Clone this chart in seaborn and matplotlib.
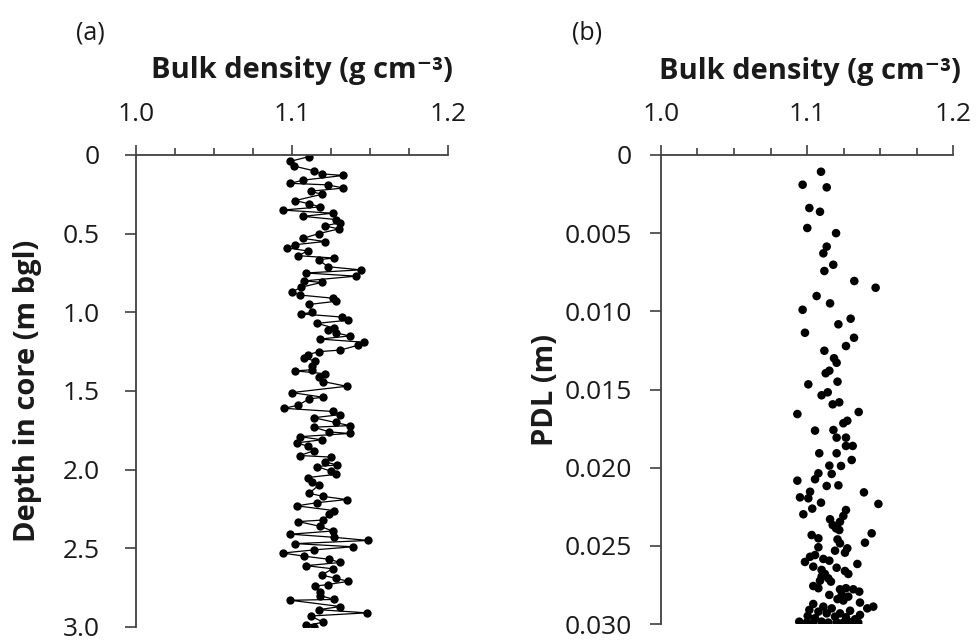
import matplotlib
matplotlib.use("Agg")
import matplotlib.pyplot as plt
from matplotlib.ticker import MultipleLocator, FixedLocator, FixedFormatter
import seaborn as sns
import pandas as pd

# ---------------- data ----------------
depth_a = [0.01, 0.04, 0.07, 0.10, 0.12, 0.13, 0.16, 0.18, 0.19, 0.21, 0.23, 0.25,
           0.29, 0.31, 0.33, 0.35, 0.37, 0.39, 0.41, 0.43, 0.45, 0.47, 0.50, 0.53,
           0.55, 0.57, 0.59, 0.61, 0.64, 0.655, 0.665, 0.71, 0.73, 0.75, 0.77, 0.80,
           0.81, 0.84, 0.87, 0.89, 0.91, 0.93, 0.95, 1.00, 1.01, 1.03, 1.05, 1.07,
           1.10, 1.11, 1.13, 1.15, 1.17, 1.19, 1.21, 1.24, 1.25, 1.27, 1.29, 1.31,
           1.34, 1.365, 1.372, 1.39, 1.41, 1.44, 1.47, 1.51, 1.54, 1.55, 1.59, 1.61,
           1.63, 1.65, 1.67, 1.70, 1.72, 1.73, 1.76, 1.77, 1.79, 1.81, 1.83, 1.85,
           1.88, 1.91, 1.92, 1.95, 1.97, 1.98, 2.01, 2.03, 2.05, 2.08, 2.10, 2.15,
           2.17, 2.19, 2.21, 2.23, 2.26, 2.28, 2.32, 2.33, 2.36, 2.39, 2.41, 2.43,
           2.45, 2.47, 2.49, 2.51, 2.53, 2.55, 2.57, 2.59, 2.61, 2.63, 2.67, 2.69,
           2.71, 2.73, 2.74, 2.78, 2.80, 2.825, 2.83, 2.87, 2.89, 2.91, 2.93, 2.97,
           2.99, 3.00]
density_a = [1.111, 1.099, 1.101, 1.114, 1.119, 1.133, 1.107, 1.099, 1.123, 1.133, 1.112, 1.119,
             1.102, 1.111, 1.118, 1.094, 1.126, 1.107, 1.128, 1.131, 1.121, 1.130, 1.117, 1.107,
             1.121, 1.102, 1.097, 1.110, 1.104, 1.127, 1.117, 1.123, 1.144, 1.109, 1.141, 1.108,
             1.119, 1.106, 1.100, 1.105, 1.126, 1.128, 1.111, 1.113, 1.106, 1.132, 1.136, 1.116,
             1.127, 1.123, 1.128, 1.137, 1.118, 1.146, 1.142, 1.131, 1.117, 1.110, 1.108, 1.115,
             1.113, 1.113, 1.102, 1.121, 1.117, 1.120, 1.135, 1.100, 1.120, 1.111, 1.104, 1.095,
             1.126, 1.131, 1.114, 1.128, 1.137, 1.114, 1.124, 1.137, 1.105, 1.119, 1.103, 1.110,
             1.114, 1.105, 1.125, 1.121, 1.129, 1.116, 1.125, 1.128, 1.110, 1.113, 1.117, 1.111,
             1.120, 1.135, 1.116, 1.103, 1.127, 1.124, 1.120, 1.104, 1.118, 1.126, 1.099, 1.127,
             1.149, 1.102, 1.139, 1.114, 1.094, 1.108, 1.124, 1.131, 1.109, 1.126, 1.119, 1.128,
             1.136, 1.123, 1.115, 1.118, 1.118, 1.127, 1.099, 1.131, 1.117, 1.148, 1.112, 1.120,
             1.109, 1.114]

pdl_b = [0.00107, 0.00190, 0.00207, 0.00339, 0.00363, 0.00467, 0.00500, 0.00586, 0.00629,
         0.00702, 0.00742, 0.00806, 0.00849, 0.00902, 0.00949, 0.00990, 0.01047, 0.01083,
         0.01137, 0.01169, 0.01222, 0.01252, 0.01300, 0.01329, 0.01380, 0.01396, 0.01467,
         0.01450, 0.01518, 0.01537, 0.01582, 0.01595, 0.01657, 0.01644, 0.01700, 0.01716,
         0.01763, 0.01759, 0.01808, 0.01808, 0.01861, 0.01861, 0.01908, 0.01908, 0.01951,
         0.01987, 0.01989, 0.02036, 0.02040, 0.02074, 0.02083, 0.02117, 0.02113, 0.02154,
         0.02158, 0.02190, 0.02196, 0.02232, 0.02224, 0.02262, 0.02271, 0.02298, 0.02309,
         0.02330, 0.02346, 0.02367, 0.02388, 0.02399, 0.02431, 0.02420, 0.02452, 0.02459,
         0.02480, 0.02484, 0.02509, 0.02516, 0.02531, 0.02544, 0.02559, 0.02570, 0.02584,
         0.02595, 0.02603, 0.02616, 0.02633, 0.02640, 0.02654, 0.02661, 0.02680, 0.02680,
         0.02697, 0.02708, 0.02723, 0.02729, 0.02757, 0.02771, 0.02778, 0.02771, 0.02778,
         0.02793, 0.02814, 0.02814, 0.02825, 0.02841, 0.02850, 0.02872, 0.02863, 0.02889,
         0.02900, 0.02889, 0.02900, 0.02910, 0.02915, 0.02921, 0.02932, 0.02932, 0.02942,
         0.02949, 0.02953, 0.02957, 0.02963, 0.02970, 0.02985, 0.02991, 0.02991, 0.02985,
         0.02991, 0.02989, 0.02991, 0.02989, 0.02991]
density_b = [1.1096, 1.0970, 1.1135, 1.1016, 1.1089, 1.1002, 1.1199, 1.1135, 1.1112,
             1.1180, 1.1119, 1.1324, 1.1470, 1.1066, 1.1158, 1.0970, 1.1299, 1.1215,
             1.0986, 1.1322, 1.1267, 1.1119, 1.1185, 1.1203, 1.1153, 1.1128, 1.1009,
             1.1209, 1.1142, 1.1100, 1.1221, 1.1176, 1.0934, 1.1354, 1.1276, 1.1249,
             1.1055, 1.1181, 1.1203, 1.1267, 1.1267, 1.1313, 1.1084, 1.1203, 1.1306,
             1.1153, 1.1233, 1.1078, 1.1169, 1.1055, 1.0934, 1.1135, 1.1215, 1.1021,
             1.1390, 1.0952, 1.1009, 1.1489, 1.1096, 1.1036, 1.1267, 1.0975, 1.1249,
             1.1158, 1.1226, 1.1176, 1.1199, 1.1221, 1.1032, 1.1443, 1.1078, 1.1209,
             1.1397, 1.1226, 1.1078, 1.1276, 1.1192, 1.1260, 1.1055, 1.1021, 1.1112,
             1.1153, 1.0986, 1.1345, 1.1043, 1.1203, 1.1100, 1.1260, 1.1123, 1.1283,
             1.1100, 1.1146, 1.1089, 1.1164, 1.1043, 1.1078, 1.1226, 1.1267, 1.1317,
             1.1358, 1.1153, 1.1238, 1.1283, 1.1209, 1.1249, 1.1043, 1.1363, 1.1454,
             1.1413, 1.1112, 1.1169, 1.1016, 1.1295, 1.1078, 1.1135, 1.1226, 1.1363,
             1.1005, 1.1192, 1.1267, 1.1055, 1.1329, 1.0947, 1.0998, 1.1043, 1.1100,
             1.1146, 1.1203, 1.1249, 1.1301, 1.1351]

x_ticks = [1.0, 1.1, 1.2]
x_ticklabels = ["1.0", "1.1", "1.2"]
y_ticks_a = [0, 0.5, 1.0, 1.5, 2.0, 2.5, 3.0]
y_ticklabels_a = ["0", "0.5", "1.0", "1.5", "2.0", "2.5", "3.0"]
y_ticks_b = [0, 0.005, 0.010, 0.015, 0.020, 0.025, 0.030]
y_ticklabels_b = ["0", "0.005", "0.010", "0.015", "0.020", "0.025", "0.030"]

df_a = pd.DataFrame({"density": density_a, "depth": depth_a})
df_b = pd.DataFrame({"density": density_b, "pdl": pdl_b})

# ---------------- style ----------------
sns.set_theme(style="white")
FONT = ["Open Sans", "DejaVu Sans"]
plt.rcParams["font.family"] = FONT
SPINE = "#404040"
TXT = "#1a1a1a"

W, H = 976, 643
fig = plt.figure(figsize=(W / 100, H / 100), dpi=100)

def ax_from_px(l, r, t, b):
    return fig.add_axes([l / W, 1 - b / H, (r - l) / W, (b - t) / H])

ax_a = ax_from_px(136, 448, 155, 627)
ax_b = ax_from_px(661, 953, 155, 624)

sns.lineplot(data=df_a, x="density", y="depth", sort=False, estimator=None,
             orient="y", color="black", lw=0.9, marker="o", markersize=6,
             markeredgewidth=0, ax=ax_a)
sns.scatterplot(data=df_b, x="density", y="pdl", color="black", s=38,
                edgecolor="none", ax=ax_b)

def style(ax, yt, ytl, ymax, ypad):
    ax.set_xlim(1.0, 1.2)
    ax.set_ylim(ymax, 0)
    for s in ["right", "bottom"]:
        ax.spines[s].set_visible(False)
    for s in ["left", "top"]:
        ax.spines[s].set_color(SPINE)
        ax.spines[s].set_linewidth(1.3)
    ax.xaxis.tick_top()
    ax.xaxis.set_label_position("top")
    ax.xaxis.set_major_locator(FixedLocator(x_ticks))
    ax.xaxis.set_major_formatter(FixedFormatter(x_ticklabels))
    ax.xaxis.set_minor_locator(MultipleLocator(0.025))
    ax.yaxis.set_major_locator(FixedLocator(yt))
    ax.yaxis.set_major_formatter(FixedFormatter(ytl))
    ax.tick_params(axis="x", which="major", top=True, bottom=False, direction="out",
                   length=7.5, width=1.2, color=SPINE, labelsize=19, labelcolor=TXT, pad=13)
    ax.tick_params(axis="x", which="minor", top=True, bottom=False, direction="out",
                   length=5, width=1.2, color=SPINE)
    ax.tick_params(axis="y", which="major", left=True, direction="out",
                   length=8, width=1.2, color=SPINE, labelsize=19, labelcolor=TXT, pad=ypad)
    ax.set_facecolor("white")
    ax.grid(False)

style(ax_a, y_ticks_a, y_ticklabels_a, 3.0, 18)
style(ax_b, y_ticks_b, y_ticklabels_b, 0.030, 13)

xl = "Bulk density (g cm\u207b\u00b3)"
ax_a.set_xlabel(xl, fontsize=21, fontweight="bold", color=TXT, va="center")
ax_a.xaxis.set_label_coords(0.532, 1.178)
ax_b.set_xlabel(xl, fontsize=21, fontweight="bold", color=TXT, va="center")
ax_b.xaxis.set_label_coords(0.510, 1.179)
ax_a.set_ylabel("Depth in core (m bgl)", fontsize=21, fontweight="bold", color=TXT, va="center")
ax_a.yaxis.set_label_coords(-0.349, 0.5)
ax_b.set_ylabel("PDL (m)", fontsize=21, fontweight="bold", color=TXT, va="center")
ax_b.yaxis.set_label_coords(-0.397, 0.5)

fig.text(90 / W, 1 - 33 / H, "(a)", fontsize=18, color=TXT, ha="center", va="center")
fig.text(587 / W, 1 - 33 / H, "(b)", fontsize=18, color=TXT, ha="center", va="center")

fig.savefig("out.png", dpi=100, facecolor="white")
